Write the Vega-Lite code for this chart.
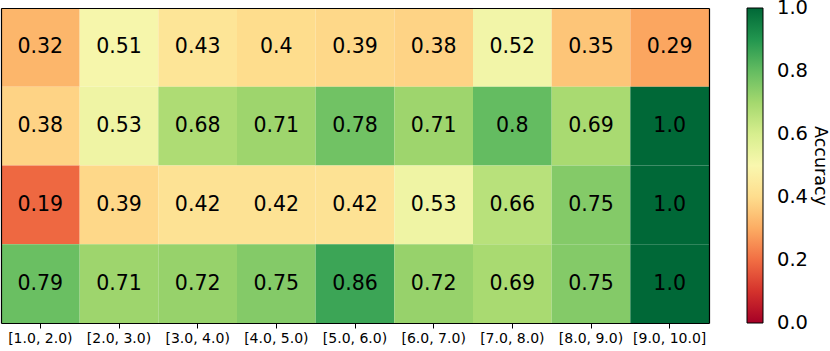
{
  "$schema": "https://vega.github.io/schema/vega-lite/v6.json",
  "autosize": {"type": "none"},
  "padding": {"left": 1, "top": 8, "right": 121, "bottom": 28},
  "width": 708,
  "height": 315,
  "config": {
    "font": "DejaVu Sans",
    "view": {"stroke": null},
    "axis": {"domainColor": "black", "domainWidth": 1.2, "tickColor": "black", "labelColor": "black"}
  },
  "data": {
    "values": [
      {"bin": "[1.0, 2.0)", "row": 0, "acc": 0.32, "label": "0.32"},
      {"bin": "[2.0, 3.0)", "row": 0, "acc": 0.51, "label": "0.51"},
      {"bin": "[3.0, 4.0)", "row": 0, "acc": 0.43, "label": "0.43"},
      {"bin": "[4.0, 5.0)", "row": 0, "acc": 0.4, "label": "0.4"},
      {"bin": "[5.0, 6.0)", "row": 0, "acc": 0.39, "label": "0.39"},
      {"bin": "[6.0, 7.0)", "row": 0, "acc": 0.38, "label": "0.38"},
      {"bin": "[7.0, 8.0)", "row": 0, "acc": 0.52, "label": "0.52"},
      {"bin": "[8.0, 9.0)", "row": 0, "acc": 0.35, "label": "0.35"},
      {"bin": "[9.0, 10.0]", "row": 0, "acc": 0.29, "label": "0.29"},
      {"bin": "[1.0, 2.0)", "row": 1, "acc": 0.38, "label": "0.38"},
      {"bin": "[2.0, 3.0)", "row": 1, "acc": 0.53, "label": "0.53"},
      {"bin": "[3.0, 4.0)", "row": 1, "acc": 0.68, "label": "0.68"},
      {"bin": "[4.0, 5.0)", "row": 1, "acc": 0.71, "label": "0.71"},
      {"bin": "[5.0, 6.0)", "row": 1, "acc": 0.78, "label": "0.78"},
      {"bin": "[6.0, 7.0)", "row": 1, "acc": 0.71, "label": "0.71"},
      {"bin": "[7.0, 8.0)", "row": 1, "acc": 0.8, "label": "0.8"},
      {"bin": "[8.0, 9.0)", "row": 1, "acc": 0.69, "label": "0.69"},
      {"bin": "[9.0, 10.0]", "row": 1, "acc": 1.0, "label": "1.0"},
      {"bin": "[1.0, 2.0)", "row": 2, "acc": 0.19, "label": "0.19"},
      {"bin": "[2.0, 3.0)", "row": 2, "acc": 0.39, "label": "0.39"},
      {"bin": "[3.0, 4.0)", "row": 2, "acc": 0.42, "label": "0.42"},
      {"bin": "[4.0, 5.0)", "row": 2, "acc": 0.42, "label": "0.42"},
      {"bin": "[5.0, 6.0)", "row": 2, "acc": 0.42, "label": "0.42"},
      {"bin": "[6.0, 7.0)", "row": 2, "acc": 0.53, "label": "0.53"},
      {"bin": "[7.0, 8.0)", "row": 2, "acc": 0.66, "label": "0.66"},
      {"bin": "[8.0, 9.0)", "row": 2, "acc": 0.75, "label": "0.75"},
      {"bin": "[9.0, 10.0]", "row": 2, "acc": 1.0, "label": "1.0"},
      {"bin": "[1.0, 2.0)", "row": 3, "acc": 0.79, "label": "0.79"},
      {"bin": "[2.0, 3.0)", "row": 3, "acc": 0.71, "label": "0.71"},
      {"bin": "[3.0, 4.0)", "row": 3, "acc": 0.72, "label": "0.72"},
      {"bin": "[4.0, 5.0)", "row": 3, "acc": 0.75, "label": "0.75"},
      {"bin": "[5.0, 6.0)", "row": 3, "acc": 0.86, "label": "0.86"},
      {"bin": "[6.0, 7.0)", "row": 3, "acc": 0.72, "label": "0.72"},
      {"bin": "[7.0, 8.0)", "row": 3, "acc": 0.69, "label": "0.69"},
      {"bin": "[8.0, 9.0)", "row": 3, "acc": 0.75, "label": "0.75"},
      {"bin": "[9.0, 10.0]", "row": 3, "acc": 1.0, "label": "1.0"}
    ]
  },
  "resolve": {"axis": {"x": "independent", "y": "independent"}},
  "layer": [
    {
      "mark": {"type": "rect"},
      "encoding": {
        "x": {
          "field": "bin", "type": "ordinal", "sort": null,
          "scale": {"paddingInner": 0, "paddingOuter": 0},
          "axis": {"title": null, "labelAngle": 0, "labelFontSize": 14,
                   "tickSize": 5, "domain": true, "labelPadding": 3, "zindex": 1}
        },
        "y": {
          "field": "row", "type": "ordinal",
          "scale": {"paddingInner": 0, "paddingOuter": 0},
          "axis": {"title": null, "labels": false, "ticks": false, "domain": true, "orient": "left", "zindex": 1}
        },
        "color": {
          "field": "acc", "type": "quantitative",
          "scale": {"scheme": "redyellowgreen", "domain": [0, 1]},
          "legend": {
            "type": "gradient",
            "title": "Accuracy",
            "direction": "vertical",
            "orient": "right",
            "offset": 38,
            "padding": 0,
            "gradientLength": 315,
            "gradientThickness": 16,
            "gradientStrokeColor": "black",
            "gradientStrokeWidth": 1,
            "values": [0, 0.2, 0.4, 0.6, 0.8, 1.0],
            "format": ".1f",
            "labelFontSize": 19.5,
            "labelColor": "black",
            "labelOffset": 14,
            "labelBaseline": "middle",
            "labelOverlap": false,
            "titleOrient": "right",
            "titleAngle": 90,
            "titlePadding": 3,
            "titleFontSize": 17.5,
            "titleFontWeight": "normal",
            "titleColor": "black",
            "encode": {
              "labels": {"update": {"baseline": {"value": "middle"}}}
            }
          }
        }
      }
    },
    {
      "mark": {"type": "text", "fontSize": 20.5, "color": "black"},
      "encoding": {
        "x": {
          "field": "bin", "type": "ordinal", "sort": null,
          "axis": {"title": null, "orient": "top", "labels": false, "ticks": false, "domain": true, "zindex": 1}
        },
        "y": {
          "field": "row", "type": "ordinal",
          "axis": {"title": null, "orient": "right", "labels": false, "ticks": false, "domain": true, "zindex": 1}
        },
        "text": {"field": "label", "type": "nominal"}
      }
    }
  ]
}
